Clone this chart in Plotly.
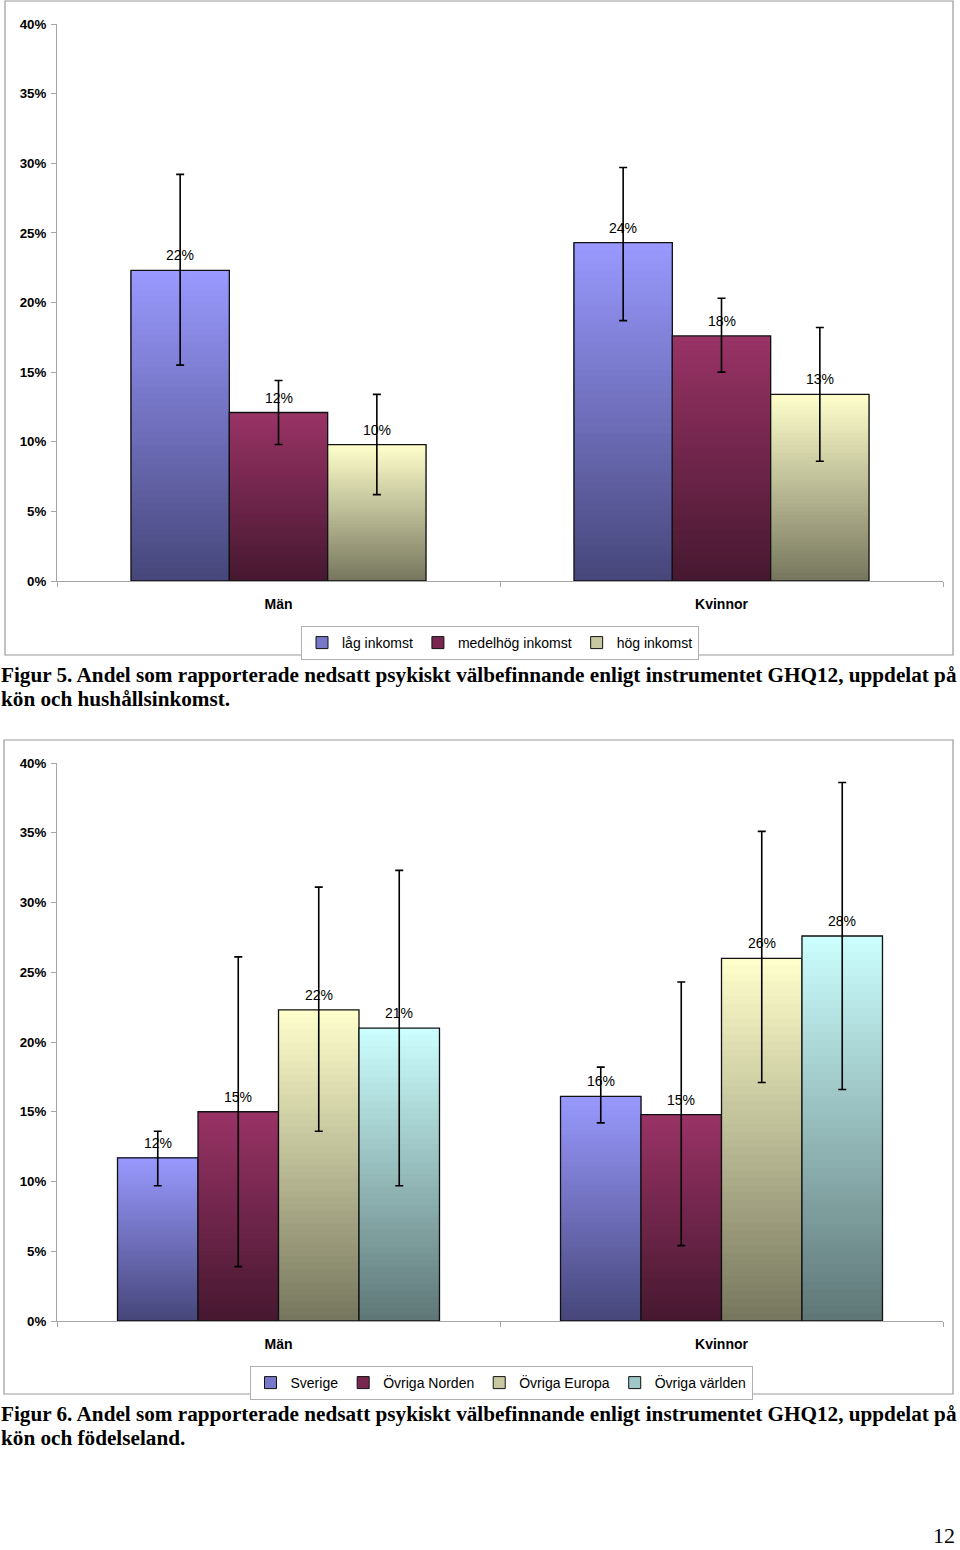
import plotly.graph_objects as go

# ---------------- data ----------------
categories = ["Män", "Kvinnor"]

# Figur 5 – hushållsinkomst
inc_names = ["låg inkomst", "medelhög inkomst", "hög inkomst"]
inc_low = [22.3, 24.3]
inc_low_ci_lo = [15.5, 18.7]
inc_low_ci_hi = [29.2, 29.7]
inc_mid = [12.1, 17.6]
inc_mid_ci_lo = [9.8, 15.0]
inc_mid_ci_hi = [14.4, 20.3]
inc_high = [9.8, 13.4]
inc_high_ci_lo = [6.2, 8.6]
inc_high_ci_hi = [13.4, 18.2]

# Figur 6 – födelseland
birth_names = ["Sverige", "Övriga Norden", "Övriga Europa", "Övriga världen"]
birth_sverige = [11.7, 16.1]
birth_sverige_ci_lo = [9.7, 14.2]
birth_sverige_ci_hi = [13.6, 18.2]
birth_norden = [15.0, 14.8]
birth_norden_ci_lo = [3.9, 5.4]
birth_norden_ci_hi = [26.1, 24.3]
birth_europa = [22.3, 26.0]
birth_europa_ci_lo = [13.6, 17.1]
birth_europa_ci_hi = [31.1, 35.1]
birth_varlden = [21.0, 27.6]
birth_varlden_ci_lo = [9.7, 16.6]
birth_varlden_ci_hi = [32.3, 38.6]

y_ticks = [0, 5, 10, 15, 20, 25, 30, 35, 40]
y_tick_labels = ["0%", "5%", "10%", "15%", "20%", "25%", "30%", "35%", "40%"]

# ---------------- styles ----------------
BLUE = ((153, 153, 255), (70, 70, 122))
PLUM = ((153, 51, 102), (70, 24, 48))
IVORY = ((255, 255, 204), (118, 118, 94))
AQUA = ((204, 255, 255), (94, 118, 118))

FONT = "Arial, Liberation Sans, sans-serif"
SERIF = "Times New Roman, Liberation Serif, serif"
W, H = 960, 1550
PLOT_L, PLOT_R = 57, 943
CAT_PX = (PLOT_R - PLOT_L) / 2.0
N_SEG = 48


def px_x(x):
    return x / W


def px_y(y):
    return 1 - y / H


def rgb(c):
    return "rgb(%d,%d,%d)" % tuple(int(round(v)) for v in c)


def add_series(fig, xa, ya, legend, name, values, lo, hi, colors, idx, n, width):
    light, dark = colors
    offset = (idx - n / 2) * width
    # gradient body: overlapping layers, each from its start height up to the bar top
    for k in range(N_SEG):
        t = (k + 0.5) / N_SEG
        col = [dark[i] + (light[i] - dark[i]) * t for i in range(3)]
        bases = [v * k / N_SEG for v in values]
        fig.add_trace(go.Bar(
            x=categories, y=[v - b for v, b in zip(values, bases)],
            base=bases,
            width=width, offset=offset,
            marker=dict(color=rgb(col), line=dict(width=0)),
            showlegend=False, hoverinfo="skip",
            xaxis=xa, yaxis=ya,
        ))
    # outline and error bars
    fig.add_trace(go.Bar(
        x=categories, y=values, width=width, offset=offset,
        marker=dict(color="rgba(0,0,0,0)", line=dict(color="#111111", width=1.3)),
        error_y=dict(type="data", symmetric=False,
                     array=[h - v for h, v in zip(hi, values)],
                     arrayminus=[v - l for v, l in zip(values, lo)],
                     color="black", thickness=1.6, width=4),
        showlegend=False, hoverinfo="skip",
        xaxis=xa, yaxis=ya,
    ))
    # value labels above each bar
    xshift = (offset + width / 2) * CAT_PX
    for c, v in zip(categories, values):
        fig.add_annotation(
            x=c, y=v, xref=xa, yref=ya, text="%d%%" % round(v),
            xshift=xshift, yshift=15, xanchor="center", yanchor="middle",
            showarrow=False, borderpad=0,
            font=dict(family=FONT, size=14, color="black"),
        )
    # legend entry
    mid = [(light[i] * 0.6 + dark[i] * 0.4) for i in range(3)]
    fig.add_trace(go.Bar(
        x=categories, y=[None, None], name=name,
        marker=dict(color=rgb(mid), line=dict(color="#111111", width=1)),
        legend=legend, xaxis=xa, yaxis=ya,
    ))


fig = go.Figure()

inc_vals = [inc_low, inc_mid, inc_high]
inc_lo = [inc_low_ci_lo, inc_mid_ci_lo, inc_high_ci_lo]
inc_hi = [inc_low_ci_hi, inc_mid_ci_hi, inc_high_ci_hi]
inc_cols = [BLUE, PLUM, IVORY]
for i in range(3):
    add_series(fig, "x", "y", "legend", inc_names[i], inc_vals[i], inc_lo[i], inc_hi[i],
               inc_cols[i], i, 3, 0.222)

b_vals = [birth_sverige, birth_norden, birth_europa, birth_varlden]
b_lo = [birth_sverige_ci_lo, birth_norden_ci_lo, birth_europa_ci_lo, birth_varlden_ci_lo]
b_hi = [birth_sverige_ci_hi, birth_norden_ci_hi, birth_europa_ci_hi, birth_varlden_ci_hi]
b_cols = [BLUE, PLUM, IVORY, AQUA]
for i in range(4):
    add_series(fig, "x2", "y2", "legend2", birth_names[i], b_vals[i], b_lo[i], b_hi[i],
               b_cols[i], i, 4, 0.1817)

AX_GREY = "#a6a6a6"
xcommon = dict(type="category", range=[-0.5, 1.5], showline=True, linecolor=AX_GREY,
               linewidth=1, ticks="outside", tickson="boundaries", ticklen=5,
               tickcolor=AX_GREY, showgrid=False, zeroline=False, automargin=False,
               tickfont=dict(family=FONT, size=14, color="black", weight="bold"),
               ticklabelstandoff=10, fixedrange=True)
ycommon = dict(range=[0, 40], tickmode="array", tickvals=y_ticks, ticktext=y_tick_labels,
               showline=True, linecolor=AX_GREY, linewidth=1, ticks="outside", ticklen=5,
               tickcolor=AX_GREY, showgrid=False, zeroline=False, automargin=False,
               tickfont=dict(family=FONT, size=13.3, color="black", weight="bold"),
               ticklabelstandoff=2, fixedrange=True)

legend_common = dict(orientation="h", xanchor="center", yanchor="top",
                     bordercolor="#b0b0b0", borderwidth=1, bgcolor="white",
                     font=dict(family=FONT, size=14, color="black"), itemwidth=30,
                     traceorder="normal")

fig.update_layout(
    width=W, height=H, autosize=False,
    margin=dict(l=0, r=0, t=0, b=0, pad=0, autoexpand=False),
    paper_bgcolor="white", plot_bgcolor="white",
    barmode="overlay",
    font=dict(family=FONT, size=13, color="black"),
    xaxis=dict(domain=[px_x(PLOT_L), px_x(PLOT_R)], anchor="y", **xcommon),
    yaxis=dict(domain=[px_y(581), px_y(24)], anchor="x", **ycommon),
    xaxis2=dict(domain=[px_x(PLOT_L), px_x(PLOT_R)], anchor="y2", **xcommon),
    yaxis2=dict(domain=[px_y(1321), px_y(763)], anchor="x2", **ycommon),
    legend=dict(x=px_x(500), y=px_y(626), **legend_common),
    legend2=dict(x=px_x(501), y=px_y(1366), **legend_common),
    shapes=[
        dict(type="rect", xref="paper", yref="paper", x0=px_x(5), x1=px_x(953),
             y0=px_y(655), y1=px_y(1), line=dict(color="#9a9a9a", width=1.2)),
        dict(type="rect", xref="paper", yref="paper", x0=px_x(4), x1=px_x(953),
             y0=px_y(1394), y1=px_y(740), line=dict(color="#9a9a9a", width=1.2)),
    ],
)

captions = [
    ("Figur 5. Andel som rapporterade nedsatt psykiskt välbefinnande enligt instrumentet GHQ12, uppdelat på", 675),
    ("kön och hushållsinkomst.", 699),
    ("Figur 6. Andel som rapporterade nedsatt psykiskt välbefinnande enligt instrumentet GHQ12, uppdelat på", 1414),
    ("kön och födelseland.", 1438),
]
for txt, yy in captions:
    fig.add_annotation(text="<b>%s</b>" % txt, xref="paper", yref="paper",
                       x=0, y=px_y(yy), xanchor="left", yanchor="middle",
                       showarrow=False, borderpad=0,
                       font=dict(family=SERIF, size=21.2, color="black"))
fig.add_annotation(text="12", xref="paper", yref="paper", x=px_x(956), y=px_y(1549),
                   xanchor="right", yanchor="bottom", showarrow=False, borderpad=0,
                   font=dict(family=SERIF, size=22, color="black"))

fig.write_html(
    "out.html",
    config={"displayModeBar": False, "responsive": False},
    post_script="document.body.style.margin='0';document.body.style.overflow='hidden';",
)
